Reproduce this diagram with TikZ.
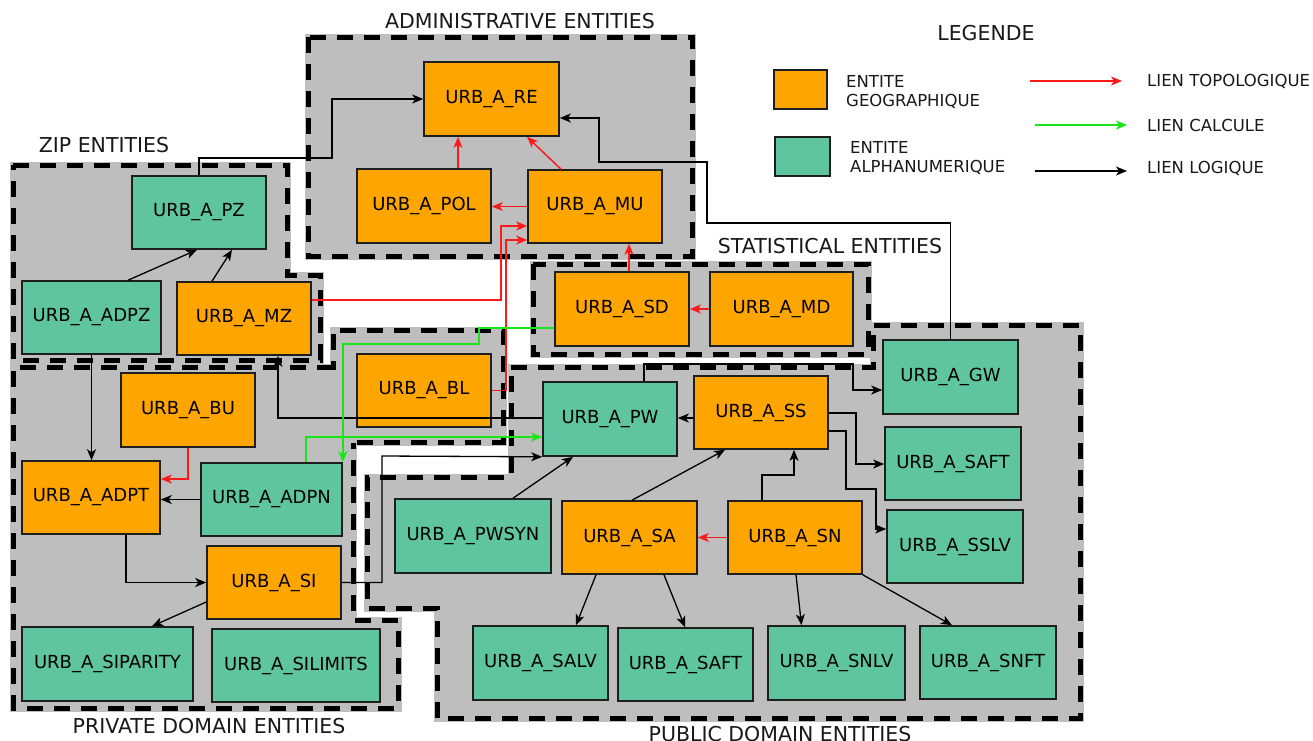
\documentclass[tikz,border=0pt]{standalone}
\usepackage{fontspec}
\setmainfont{DejaVu Sans}
\usetikzlibrary{arrows.meta,calc}
\definecolor{geocol}{HTML}{FFA500}
\definecolor{alphacol}{HTML}{5EC5A0}
\definecolor{regiongray}{HTML}{BEBEBE}
\definecolor{topocol}{HTML}{FF1A1A}
\definecolor{calccol}{HTML}{19E619}
\definecolor{boxline}{HTML}{1E1E1E}
\tikzset{
  box/.style={draw=boxline, line width=1.6pt, inner sep=0pt, font=\fontsize{18}{21}\selectfont},
  geobox/.style={box, fill=geocol},
  alphabox/.style={box, fill=alphacol},
  tip/.style={-{Stealth[length=11pt,width=9pt,inset=3pt]}},
  logic/.style={draw=black, line width=1.3pt, tip},
  topo/.style={draw=topocol, line width=1.5pt, tip},
  calcl/.style={draw=calccol, line width=1.5pt, tip},
  regionfill/.style={fill=regiongray, draw=regiongray, line width=7pt, line join=miter},
  regionborder/.style={draw=black, line width=5pt, dash pattern=on 16pt off 11pt},
  title/.style={font=\fontsize{20.5}{24}\selectfont, text=black!90, inner sep=0pt},
  legtext/.style={font=\fontsize{16.5}{19}\selectfont, text=black!90, inner sep=0pt, align=left}
}
\begin{document}
\begin{tikzpicture}[x=1pt,y=-1pt]
\useasboundingbox (0,0) rectangle (1313,740);
\fill[white] (0,0) rectangle (1313,740);

% ---------- region fills ----------
\path[regionfill] (308,37) rectangle (692,256);
\path[regionfill] (13,165) -- (287,165) -- (287,275) -- (320,275) -- (320,360) -- (13,360) -- cycle;
\path[regionfill] (533,264) rectangle (868,354);
\path[regionfill] (333,330) rectangle (503,442);
\path[regionfill] (13,367) -- (340,367) -- (340,443) -- (353,443) -- (353,620) -- (398,620) -- (398,708) -- (13,708) -- cycle;
\path[regionfill] (511,367) -- (873,367) -- (873,325) -- (1080,325) -- (1080,718) -- (437,718) -- (437,608) -- (367,608) -- (367,477) -- (511,477) -- cycle;

% ---------- region borders ----------
\draw[regionborder] (308,37) rectangle (692,256);
\draw[regionborder] (13,165) -- (287,165) -- (287,275) -- (320,275) -- (320,360) -- (13,360) -- cycle;
\draw[regionborder] (533,264) rectangle (868,354);
\draw[regionborder] (357,442) -- (503,442) -- (503,330) -- (333,330) -- (333,370);
\draw[regionborder] (333,367) -- (13,367) -- (13,708) -- (398,708) -- (398,620) -- (353,620) -- (353,443);
\draw[regionborder] (511,367) -- (873,367) -- (873,325) -- (1080,325) -- (1080,718) -- (437,718) -- (437,608) -- (367,608) -- (367,477) -- (511,477) -- cycle;

% ---------- titles ----------
\node[title] (tadmin) at (520,21) {ADMINISTRATIVE ENTITIES};
\node[title] (tzip) at (104,145) {ZIP ENTITIES};
\node[title] (tstat) at (830,246) {STATISTICAL ENTITIES};
\node[title] (tpriv) at (209,726) {PRIVATE DOMAIN ENTITIES};
\node[title] (tpub) at (780,734) {PUBLIC DOMAIN ENTITIES};

% ---------- entity boxes ----------
\node[geobox, minimum width=135pt, minimum height=74pt] (re) at (491.5,99) {URB\_A\_RE};
\node[geobox, minimum width=134pt, minimum height=74pt] (pol) at (424,206) {URB\_A\_POL};
\node[geobox, minimum width=134pt, minimum height=73pt] (mu) at (595,206.5) {URB\_A\_MU};
\node[alphabox, minimum width=134pt, minimum height=73pt] (pz) at (199,212.5) {URB\_A\_PZ};
\node[alphabox, minimum width=139pt, minimum height=73pt] (adpz) at (91.5,317.5) {URB\_A\_ADPZ};
\node[geobox, minimum width=134pt, minimum height=73pt] (mz) at (244,318.5) {URB\_A\_MZ};
\node[geobox, minimum width=134pt, minimum height=74pt] (sd) at (622,309) {URB\_A\_SD};
\node[geobox, minimum width=143pt, minimum height=74pt] (md) at (781.5,309) {URB\_A\_MD};
\node[geobox, minimum width=134pt, minimum height=73pt] (bl) at (424,390.5) {URB\_A\_BL};
\node[geobox, minimum width=134pt, minimum height=74pt] (bu) at (188,410) {URB\_A\_BU};
\node[geobox, minimum width=138pt, minimum height=73pt] (adpt) at (91,497.5) {URB\_A\_ADPT};
\node[alphabox, minimum width=141pt, minimum height=73pt] (adpn) at (271.5,499.5) {URB\_A\_ADPN};
\node[geobox, minimum width=134pt, minimum height=73pt] (si) at (274,582.5) {URB\_A\_SI};
\node[alphabox, minimum width=171pt, minimum height=74pt] (siparity) at (107.5,664) {URB\_A\_SIPARITY};
\node[alphabox, minimum width=168pt, minimum height=73pt] (silimits) at (296,665.5) {URB\_A\_SILIMITS};
\node[alphabox, minimum width=134pt, minimum height=74pt] (pw) at (610,419) {URB\_A\_PW};
\node[geobox, minimum width=134pt, minimum height=73pt] (ss) at (761,412.5) {URB\_A\_SS};
\node[alphabox, minimum width=135pt, minimum height=74pt] (gw) at (950.5,377) {URB\_A\_GW};
\node[alphabox, minimum width=136pt, minimum height=73pt] (safta) at (953,463.5) {URB\_A\_SAFT};
\node[alphabox, minimum width=136pt, minimum height=73pt] (sslv) at (955,546.5) {URB\_A\_SSLV};
\node[alphabox, minimum width=156pt, minimum height=74pt] (pwsyn) at (473,536) {URB\_A\_PWSYN};
\node[geobox, minimum width=135pt, minimum height=73pt] (sa) at (629.5,537.5) {URB\_A\_SA};
\node[geobox, minimum width=134pt, minimum height=73pt] (sn) at (795,537.5) {URB\_A\_SN};
\node[alphabox, minimum width=135pt, minimum height=74pt] (salv) at (540.5,663) {URB\_A\_SALV};
\node[alphabox, minimum width=135pt, minimum height=73pt] (saftb) at (685.5,664.5) {URB\_A\_SAFT};
\node[alphabox, minimum width=137pt, minimum height=74pt] (snlv) at (836.5,663) {URB\_A\_SNLV};
\node[alphabox, minimum width=136pt, minimum height=73pt] (snft) at (988,662.5) {URB\_A\_SNFT};

% ---------- logical links (black) ----------
\draw[logic] (pz.north) |- (332,158) |- (re.west);
\draw[logic] (gw.north) |- (707,223) |- (599,162) |- (re.east |- 0,118);
\draw[logic] ([xshift=36.5pt]adpz.north) -- ([xshift=-2pt]pz.south);
\draw[logic] ([xshift=-32pt]mz.north) -- ([xshift=33pt]pz.south);
\draw[logic] (adpz.south) -- (adpz.south |- adpt.north);
\draw[logic] (pw.west |- 0,418) -| ([xshift=34pt]mz.south);
\draw[logic] (adpn.west) -- (adpt.east |- adpn.west);
\draw[logic] ([xshift=35pt]adpt.south) |- (si.west);
\draw[logic] (si.west |- 0,602) -- ([xshift=44.5pt]siparity.north);
\draw[logic] (si.east) -| (382,456) -- (pw.south west);
\draw[logic] (ss.west |- 0,418) -- (pw.east |- 0,418);
\draw[logic] ([xshift=34pt]pw.north) |- (853,364) |- (gw.west |- 0,390);
\draw[logic] (ss.east |- 0,413) -| (856,464) -- (safta.west |- 0,464);
\draw[logic] (ss.east |- 0,431) -| (846,489) -| (876,529) -- (sslv.west |- 0,529);
\draw[logic] ([xshift=2.5pt]sa.north) -- ([xshift=-36pt]ss.south);
\draw[logic] ([xshift=-33pt]sn.north) |- ([xshift=33pt]ss.south |- 0,475) -- ([xshift=33pt]ss.south);
\draw[logic] ([xshift=40pt]pwsyn.north) -- ([xshift=-37pt]pw.south);
\draw[logic] ([xshift=-33.5pt]sa.south) -- ([xshift=35.5pt]salv.north);
\draw[logic] ([xshift=34.5pt]sa.south) -- ([xshift=-0.5pt]saftb.north);
\draw[logic] ([xshift=1pt]sn.south) -- ([xshift=-35pt]snlv.north);
\draw[logic] (sn.south east) -- ([xshift=-36pt]snft.north);

% ---------- topological links (red) ----------
\draw[topo] ([xshift=34pt]pol.north) -- ([xshift=34pt]pol.north |- re.south);
\draw[topo] ([xshift=-34pt]mu.north) -- ([xshift=35.5pt]re.south);
\draw[topo] (mu.west) -- (pol.east |- mu.west);
\draw[topo] (mz.east |- 0,300) -| (501,226) -- (mu.west |- 0,226);
\draw[topo] (bl.east) -| (506,240) -- (mu.west |- 0,240);
\draw[topo] ([xshift=7pt]sd.north) -- ([xshift=7pt]sd.north |- mu.south);
\draw[topo] (md.west) -- (sd.east);
\draw[topo] (bu.south) |- (adpt.east |- 0,479);
\draw[topo] (sn.west) -- (sa.east);

% ---------- computed links (green) ----------
\draw[calcl] (sd.west |- 0,328) -| (479,344) -| (adpn.north east);
\draw[calcl] ([xshift=34.5pt]adpn.north) |- (pw.west |- 0,437);

% ---------- legend ----------
\node[title] (legtitle) at (986,33) {LEGENDE};
\node[geobox, minimum width=53pt, minimum height=39pt] (lgeo) at (800.5,89.5) {};
\node[alphabox, minimum width=55pt, minimum height=39pt] (lalpha) at (802.5,156.5) {};
\node[legtext, anchor=west] (lgeotxt) at (846,92) {ENTITE\\GEOGRAPHIQUE};
\node[legtext, anchor=west] (lalphatxt) at (850,158) {ENTITE\\ALPHANUMERIQUE};
\coordinate (ltopoA) at (1030,81);
\coordinate (ltopoB) at (1122,81);
\coordinate (lcalcA) at (1035,125);
\coordinate (lcalcB) at (1127,125);
\coordinate (llogA) at (1035,171);
\coordinate (llogB) at (1127,171);
\draw[topo] (ltopoA) -- (ltopoB);
\draw[calcl] (lcalcA) -- (lcalcB);
\draw[logic] (llogA) -- (llogB);
\node[legtext, anchor=west] (ltopotxt) at (1147,81) {LIEN TOPOLOGIQUE};
\node[legtext, anchor=west] (lcalctxt) at (1147,125) {LIEN CALCULE};
\node[legtext, anchor=west] (llogtxt) at (1147,168) {LIEN LOGIQUE};
\end{tikzpicture}
\end{document}
